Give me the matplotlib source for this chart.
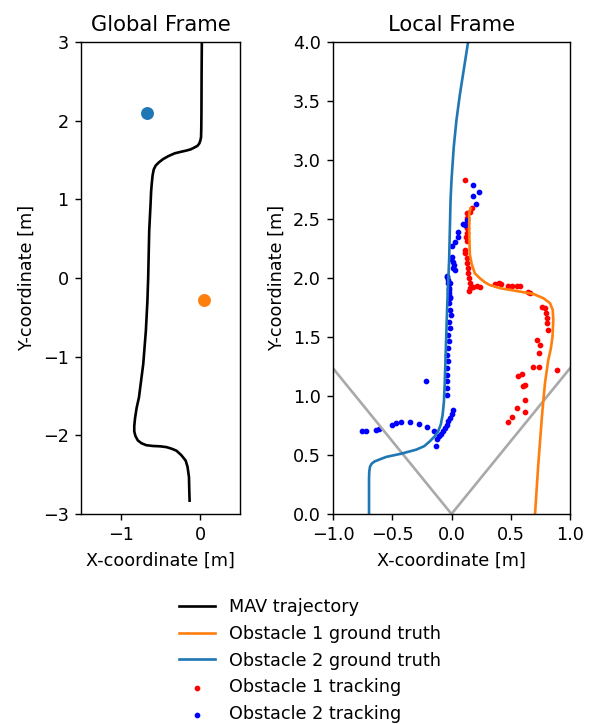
import numpy as np
import matplotlib
matplotlib.use("Agg")
import matplotlib.pyplot as plt

# MAV trajectory in the global frame
mav_x = [-0.134, -0.138, -0.142, -0.160, -0.184, -0.240, -0.300, -0.360, -0.425, -0.500, -0.600,
         -0.680, -0.740, -0.785, -0.815, -0.830, -0.830, -0.820, -0.800, -0.771, -0.717, -0.684,
         -0.665, -0.655, -0.642, -0.625, -0.618, -0.610, -0.600, -0.585, -0.560, -0.520, -0.470,
         -0.400, -0.321, -0.240, -0.175, -0.120, -0.071, -0.035, -0.012, 0.002, 0.010, 0.013,
         0.015, 0.017, 0.020]
mav_y = [-2.83, -2.70, -2.53, -2.40, -2.32, -2.25, -2.195, -2.17, -2.15, -2.14, -2.135,
         -2.125, -2.10, -2.065, -2.01, -1.95, -1.88, -1.78, -1.65, -1.518, -1.093, -0.67,
         -0.30, 0.0, 0.60, 0.94, 1.10, 1.20, 1.30, 1.38, 1.43, 1.47, 1.51,
         1.55, 1.585, 1.605, 1.62, 1.635, 1.66, 1.68, 1.71, 1.75, 1.79, 1.90,
         2.10, 2.60, 3.0]
obst2_global = (-0.675, 2.10)
obst1_global = (0.041, -0.28)

# local frame ground truth
gt1_x = [0.705, 0.718, 0.731, 0.746, 0.765, 0.789, 0.817, 0.838, 0.852, 0.859, 0.854, 0.831,
         0.775, 0.690, 0.577, 0.408, 0.324, 0.280, 0.239, 0.197, 0.170, 0.155, 0.149, 0.150,
         0.160]
gt1_y = [0.0, 0.2, 0.4, 0.6, 0.85, 1.11, 1.307, 1.40, 1.50, 1.646, 1.73, 1.787,
         1.829, 1.865, 1.885, 1.914, 1.94, 1.965, 1.998, 2.04, 2.12, 2.20, 2.40, 2.55,
         2.59]
gt2_x = [-0.696, -0.696, -0.694, -0.688, -0.675, -0.650, -0.600, -0.550, -0.420, -0.296, -0.230,
         -0.183, -0.140, -0.113, -0.090, -0.075, -0.064, -0.057, -0.048, -0.035, -0.020, -0.008,
         0.000, 0.019, 0.042, 0.070, 0.098, 0.140]
gt2_y = [0.0, 0.30, 0.36, 0.40, 0.425, 0.445, 0.465, 0.484, 0.512, 0.546, 0.575,
         0.616, 0.66, 0.70, 0.76, 0.84, 0.95, 1.11, 1.39, 1.80, 2.15, 2.66,
         2.83, 3.11, 3.34, 3.55, 3.73, 4.0]
fov_x = [-1.2, 0.0, 1.2]
fov_y = [1.482, 0.0, 1.482]

# tracked obstacle positions
trk1_x = [0.118, 0.169, 0.155, 0.135, 0.127, 0.133, 0.127, 0.127, 0.120, 0.127, 0.112, 0.118,
          0.127, 0.133, 0.140, 0.140, 0.146, 0.155, 0.155, 0.146, 0.183, 0.211, 0.239,
          0.366, 0.402, 0.414, 0.478, 0.507, 0.549, 0.577, 0.648, 0.662, 0.761, 0.789,
          0.797, 0.803, 0.808, 0.817, 0.718, 0.746, 0.738, 0.690, 0.740, 0.563, 0.592,
          0.605, 0.620, 0.620, 0.555, 0.620, 0.507, 0.478, 0.888]
trk1_y = [2.83, 2.59, 2.56, 2.548, 2.506, 2.464, 2.42, 2.38, 2.35, 2.31, 2.24, 2.21,
          2.17, 2.125, 2.083, 2.04, 2.0, 1.956, 1.914, 1.894, 1.925, 1.93, 1.925,
          1.95, 1.961, 1.95, 1.933, 1.933, 1.933, 1.933, 1.885, 1.871, 1.758, 1.745,
          1.702, 1.66, 1.618, 1.561, 1.477, 1.434, 1.364, 1.245, 1.245, 1.172, 1.189,
          1.081, 1.096, 0.963, 0.898, 0.865, 0.822, 0.78, 1.223]
trk2_x = [0.183, 0.231, 0.183, 0.205, 0.127, 0.093, 0.113, 0.056, 0.051, 0.028, 0.008, 0.005,
          -0.008, 0.014, 0.022, 0.014, 0.028, -0.037, -0.031, -0.014, -0.020, -0.020, -0.014,
          -0.042, -0.029, -0.020, -0.014, -0.020, -0.014, -0.006, -0.020, -0.014, -0.029,
          -0.023, -0.029, -0.037, -0.029, -0.037, -0.037, -0.042, -0.042, -0.037,
          -0.217, 0.014, 0.000, -0.014, -0.029, -0.042, -0.057, -0.071, -0.085, -0.105,
          -0.122, -0.133, -0.752, -0.719, -0.640, -0.612, -0.499, -0.465, -0.423, -0.347,
          -0.274, -0.206, -0.150]
trk2_y = [2.788, 2.731, 2.697, 2.624, 2.492, 2.458, 2.449, 2.393, 2.35, 2.308, 2.272, 2.176,
          2.159, 2.139, 2.111, 2.083, 2.069, 2.018, 1.984, 1.956, 1.914, 1.871, 1.829,
          2.012, 1.956, 1.899, 1.843, 1.787, 1.73, 1.688, 1.631, 1.575, 1.519,
          1.462, 1.406, 1.349, 1.293, 1.237, 1.18, 1.124, 1.067, 1.011,
          1.129, 0.878, 0.85, 0.814, 0.785, 0.757, 0.729, 0.70, 0.681, 0.658,
          0.636, 0.574, 0.70, 0.70, 0.715, 0.723, 0.757, 0.772, 0.78, 0.78,
          0.766, 0.738, 0.70]

W, H = 590, 724
fig = plt.figure(figsize=(W / 127, H / 127), dpi=127)

ax1 = fig.add_axes([81 / W, 1 - 514 / H, 159 / W, 472 / H])
ax1.plot(mav_x, mav_y, color="black", label="MAV trajectory")
ax1.scatter([obst2_global[0]], [obst2_global[1]], color="tab:blue", s=40)
ax1.scatter([obst1_global[0]], [obst1_global[1]], color="tab:orange", s=40)
ax1.set_xlim(-1.5, 0.5)
ax1.set_ylim(-3, 3)
ax1.set_xticks([-1, 0])
ax1.set_title("Global Frame")
ax1.set_xlabel("X-coordinate [m]")
ax1.set_ylabel("Y-coordinate [m]")

ax2 = fig.add_axes([333 / W, 1 - 514 / H, 237 / W, 472 / H])
ax2.plot(fov_x, fov_y, color="darkgray")
ax2.plot(gt1_x, gt1_y, color="tab:orange", label="Obstacle 1 ground truth")
ax2.plot(gt2_x, gt2_y, color="tab:blue", label="Obstacle 2 ground truth")
ax2.scatter(trk1_x, trk1_y, color="red", s=5, label="Obstacle 1 tracking")
ax2.scatter(trk2_x, trk2_y, color="blue", s=5, label="Obstacle 2 tracking")
ax2.set_xlim(-1, 1)
ax2.set_ylim(0, 4)
ax2.set_xticks(np.arange(-1, 1.01, 0.5))
ax2.set_yticks(np.arange(0, 4.01, 0.5))
ax2.set_title("Local Frame")
ax2.set_xlabel("X-coordinate [m]")
ax2.set_ylabel("Y-coordinate [m]")

h1, l1 = ax1.get_legend_handles_labels()
h2, l2 = ax2.get_legend_handles_labels()
fig.legend(h1 + h2, l1 + l2, loc="upper center", frameon=False,
           bbox_to_anchor=(310 / W, 1 - 582 / H))

fig.savefig("out.png", dpi=127)
